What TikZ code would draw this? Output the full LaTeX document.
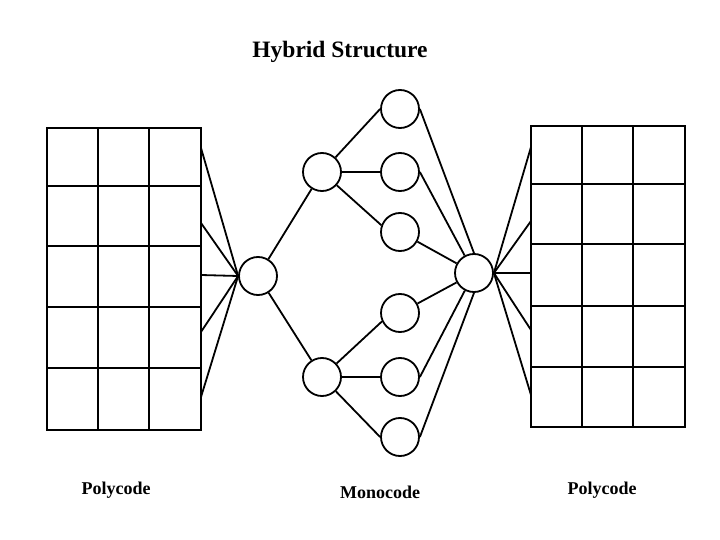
\documentclass[tikz,border=0pt]{standalone}
\usepackage{fontspec}
\setmainfont{Liberation Serif}
\usetikzlibrary{positioning}
\tikzset{
  unit/.style={draw=black, circle, minimum size=38pt, inner sep=0pt, line width=1.8pt},
  heading/.style={font=\bfseries\fontsize{23.5}{28}\selectfont, inner sep=0pt},
  caption/.style={font=\bfseries\fontsize{18}{22}\selectfont, inner sep=0pt},
  link/.style={line width=1.8pt},
  rule/.style={line width=1.8pt, line cap=rect}
}
\begin{document}
\begin{tikzpicture}[x=1pt, y=-1pt]
\useasboundingbox (0,0) rectangle (720,540);
\node[heading] (head) at (340,52) {Hybrid Structure};
% polycode tables
\foreach \x in {47,98,149,201} \draw[rule] (\x,128) -- (\x,430);
\foreach \y in {128,186,246,307,368,430} \draw[rule] (47,\y) -- (201,\y);
\foreach \x in {531,582,633,685} \draw[rule] (\x,126) -- (\x,427);
\foreach \y in {126,184,244,306,367,427} \draw[rule] (531,\y) -- (685,\y);
\foreach \y [count=\i] in {148,223,275,332,397} \coordinate (pl\i) at (201,\y);
\foreach \y [count=\i] in {147,221,273,330,395} \coordinate (pr\i) at (531,\y);
% monocode tree
\node[unit] (hubL) at (258,276) {};
\node[unit] (upper) at (322,172) {};
\node[unit] (lower) at (322,377) {};
\node[unit] (leafA) at (400,109) {};
\node[unit] (leafB) at (400,172) {};
\node[unit] (leafC) at (400,232) {};
\node[unit] (leafD) at (400,313) {};
\node[unit] (leafE) at (400,377) {};
\node[unit] (leafF) at (400,437) {};
\node[unit] (hubR) at (474,273) {};
\foreach \i in {1,...,5} {
  \draw[link] (pl\i) -- (hubL.west);
  \draw[link] (hubR.east) -- (pr\i);
}
\draw[link] (hubL) -- (upper);
\draw[link] (hubL) -- (lower);
\draw[link] (upper) -- (leafA.west);
\draw[link] (upper) -- (leafB);
\draw[link] (upper) -- (leafC.160);
\draw[link] (lower) -- (leafD.205);
\draw[link] (lower) -- (leafE);
\draw[link] (lower) -- (leafF.west);
\draw[link] (leafA.east) -- (hubR.north);
\draw[link] (leafB.east) -- (hubR);
\draw[link] (leafC) -- (hubR);
\draw[link] (leafD) -- (hubR);
\draw[link] (leafE.east) -- (hubR);
\draw[link] (leafF.east) -- (hubR.south);
% captions
\node[caption] (polyL) at (116,490) {Polycode};
\node[caption] (mono) at (380,492) {Monocode};
\node[caption] (polyR) at (602,490) {Polycode};
\end{tikzpicture}
\end{document}
